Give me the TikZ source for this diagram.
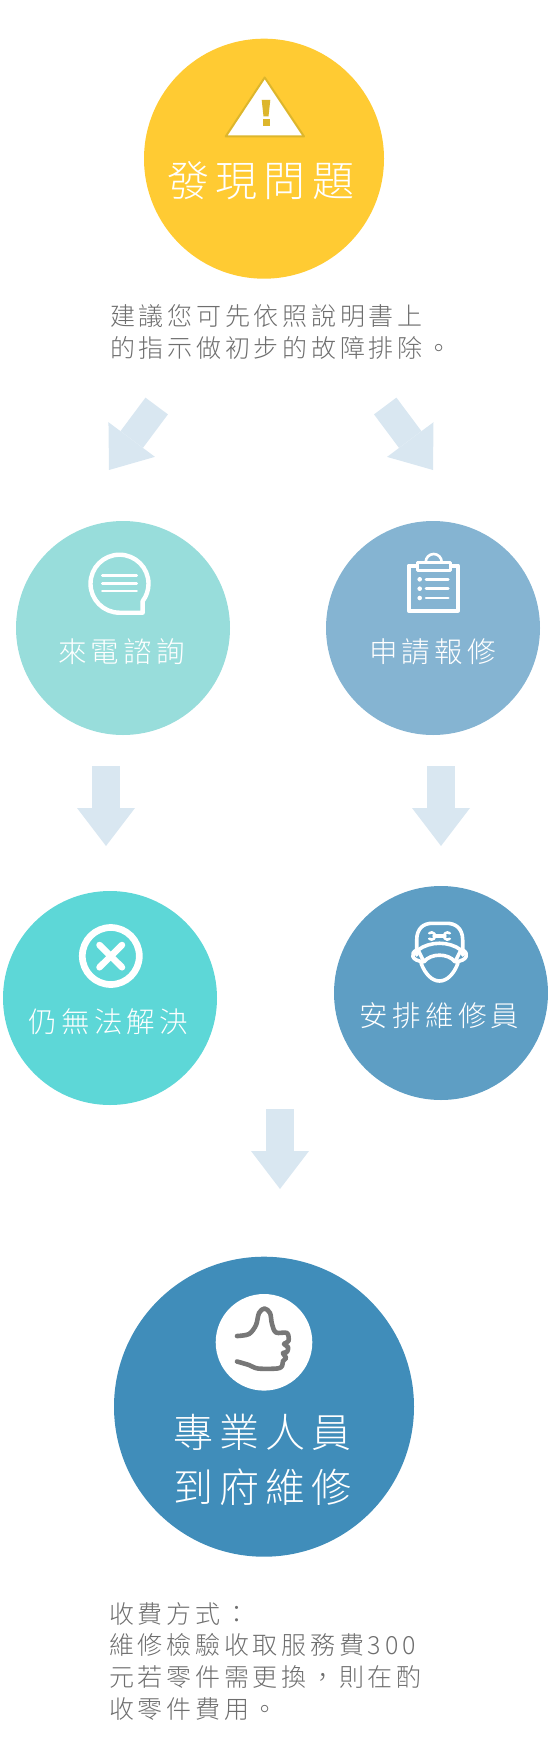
\documentclass[tikz,border=0pt]{standalone}
\usepackage{fontspec}
\usetikzlibrary{arrows.meta}
\newfontfamily\cjk[LetterSpace=15]{Noto Sans CJK TC Light}
\definecolor{alertyellow}{HTML}{FFCB33}
\definecolor{alertedge}{HTML}{DDB62C}
\definecolor{calltone}{HTML}{98DDDB}
\definecolor{reporttone}{HTML}{85B4D2}
\definecolor{failtone}{HTML}{5DD7D7}
\definecolor{stafftone}{HTML}{5E9EC4}
\definecolor{visittone}{HTML}{408DBA}
\definecolor{flowtone}{HTML}{D9E7F1}
\definecolor{notetone}{HTML}{6E6E6E}
\definecolor{thumbtone}{HTML}{777777}
\begin{document}
\begin{tikzpicture}[
        x=1pt, y=1pt, yscale=-1,
        disc/.style={circle, inner sep=0pt, minimum size=214pt},
        flow/.style={
          draw=flowtone,
          line width=28pt,
          -{Triangle[length=38pt,width=58pt,line width=0pt]}
        },
        label/.style={
          font=\cjk\fontsize{28.5}{32}\selectfont,
          text=white,
          inner sep=0pt,
          anchor=west
        },
        biglabel/.style={label, font=\cjk\fontsize{40}{55.5}\selectfont, align=left},
        note/.style={
          font=\cjk\fontsize{25}{31.8}\selectfont,
          text=notetone,
          inner sep=0pt,
          anchor=north west,
          align=left
        },
        icon/.style={draw=white, line width=4.4pt, line join=round, line cap=round}
      ]
      \useasboundingbox (0,0) rectangle (548,1760);

      \node[disc, fill=alertyellow, minimum size=240pt] (alert) at (264,158.7) {};
      \node[disc, fill=calltone] (call) at (123,628) {};
      \node[disc, fill=reporttone] (report) at (433,628) {};
      \node[disc, fill=failtone] (fail) at (110,998) {};
      \node[disc, fill=stafftone] (staff) at (441,993) {};
      \node[disc, fill=visittone, minimum size=300pt] (visit) at (264,1406.7) {};
      \node[disc, fill=white, minimum size=96.6pt] (badge) at (264,1342.3) {};

      \node[label, font=\cjk\fontsize{42}{48}\selectfont] (alerttext) at (167,181) {發現問題};
      \node[label] (calltext) at (57.8,651.7) {來電諮詢};
      \node[label] (reporttext) at (369,651.7) {申請報修};
      \node[label] (failtext) at (28.5,1021.7) {仍無法解決};
      \node[label] (stafftext) at (359.5,1016) {安排維修員};
      \node[biglabel] (visittext) at (173,1460) {專業人員\\到府維修};

      \node[note] (alertnote) at (110,304.5) {建議您可先依照說明書上\\的指示做初步的故障排除。};
      \node[note] (feenote) at (109,1602) {收費方式：\\維修檢驗收取服務費300\\元若零件需更換，則在酌\\收零件費用。};

      % block arrows
      \coordinate (leftstart) at (156.7,406);
      \coordinate (lefttip) at (109,470);
      \coordinate (rightstart) at (385.2,406);
      \coordinate (righttip) at (433,470);
      \coordinate (callstart) at (106,766);
      \coordinate (calltip) at (106,846);
      \coordinate (reportstart) at (441,766);
      \coordinate (reporttip) at (441,846);
      \coordinate (staffstart) at (280,1109);
      \coordinate (stafftip) at (280,1189);
      \draw[flow] (leftstart) -- (lefttip);
      \draw[flow] (rightstart) -- (righttip);
      \draw[flow] (callstart) -- (calltip);
      \draw[flow] (reportstart) -- (reporttip);
      \draw[flow] (staffstart) -- (stafftip);

      % warning sign
      \draw[fill=white, draw=alertedge, line width=2pt, line join=round]
        (264.7,77.5) -- (304,136.5) -- (225.7,136.5) -- cycle;
      \fill[alertedge] (261.7,100) -- (270.3,100) -- (268.5,116.5) -- (263.5,116.5) -- cycle;
      \fill[alertedge] (262.5,119) rectangle (269.5,126);

      % speech bubble
      \draw[icon] (119.5,612.7) arc[start angle=90, end angle=397, radius=29]
        -- (142.7,612.7) -- cycle;
      \foreach \y in {575.3,583.3,591}
        \draw[icon, line width=2.6pt] (102.3,\y) -- (136.7,\y);

      % clipboard
      \draw[icon, line width=4pt] (408.7,565.5) rectangle (458,610.7);
      \draw[icon, line width=2.6pt] (425.7,562) arc[start angle=180, end angle=360, radius=8];
      \draw[icon, line width=3pt, fill=reporttone] (417.3,562.5) rectangle (450,570);
      \foreach \y in {579.3,588.7,598} {
        \fill[white] (419.7,\y) circle (2.3);
        \draw[icon, line width=2.6pt] (426,\y) -- (448.3,\y);
      }

      % cross
      \draw[icon, line width=6.7pt] (110.8,956) circle (28.5);
      \draw[icon, line width=6.5pt] (99.5,945) -- (122,967.3);
      \draw[icon, line width=6.5pt] (122,945) -- (99.5,967.3);

      % repair man
      \draw[icon, line width=3.6pt] (416.7,955) -- (416.7,940)
        .. controls (416.7,928) and (424,923.3) .. (432,923.3) -- (447,923.3)
        .. controls (455,923.3) and (462.7,928) .. (462.7,940) -- (462.7,955);
      \draw[icon, line width=3.6pt] (418,950) .. controls (430,941) and (449,941) .. (461,950)
        -- (455,961.7) .. controls (448,953) and (431,953) .. (424,961.7) -- cycle;
      \draw[icon, line width=3.6pt] (416.7,950) .. controls (410,953) and (411,961) .. (424,961.7);
      \draw[icon, line width=3.6pt] (462.7,950) .. controls (469,953) and (468,961) .. (455,961.7);
      \draw[icon, line width=3.6pt] (421,963) .. controls (425,974) and (432,981) .. (439.5,981)
        .. controls (447,981) and (454,974) .. (458,963);
      \draw[icon, line width=3.2pt] (434,936) -- (445,936);
      \draw[icon, line width=2.6pt] (429.2,933.2) arc[start angle=-130, end angle=130, radius=3.6];
      \draw[icon, line width=2.6pt] (449.8,938.8) arc[start angle=50, end angle=310, radius=3.6];

      % thumb
      \draw[draw=thumbtone, line width=4.6pt, line cap=round, line join=round]
        plot[smooth, tension=0.55] coordinates {(237,1336) (249,1334) (256,1325) (259,1313)
          (264.5,1308.5) (270,1313) (272,1324) (276,1332.5) (287,1333)
          (288.5,1341) (284,1344) (288,1347) (287,1352) (283,1353) (286,1358)
          (283,1361) (282,1366) (277,1368.5) (258,1368.5) (249,1365) (237,1361.5)};
    \end{tikzpicture}
\end{document}
